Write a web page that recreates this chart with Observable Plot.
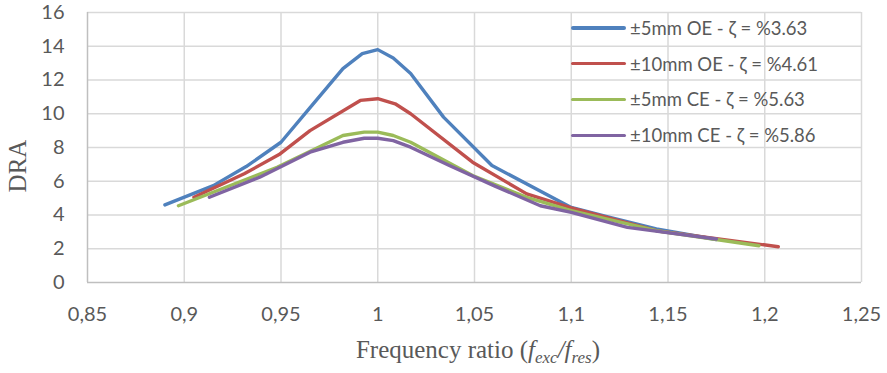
<!DOCTYPE html>
<html><head><meta charset="utf-8">
<script src="https://cdn.jsdelivr.net/npm/d3@7"></script>
<script src="https://cdn.jsdelivr.net/npm/@observablehq/plot@0.6"></script>
<style>
body{margin:0;background:#fff;}
#wrap{position:relative;width:887px;height:373px;overflow:hidden;}
.legend{position:absolute;left:571px;top:10px;font-family:Lato,sans-serif;font-size:18.5px;color:#595959;}
.legend .row{display:flex;align-items:center;height:35.8px;}
.legend .sw{width:55px;height:3.5px;margin-right:4px;border-radius:2px;}
</style></head><body><div id="wrap"></div>
<script>
const seriesNames = ["±5mm OE - ζ = %3.63","±10mm OE - ζ = %4.61","±5mm CE - ζ = %5.63","±10mm CE - ζ = %5.86"];
const seriesColors = ["#4F81BD","#C0504D","#9BBB59","#8064A2"];

const x5OE = [0.890,0.915,0.932,0.950,0.966,0.982,0.992,1.000,1.008,1.017,1.034,1.059,1.100,1.120,1.144,1.175];
const y5OE = [4.60,5.74,6.87,8.31,10.5,12.67,13.56,13.80,13.30,12.38,9.80,6.93,4.45,3.86,3.17,2.55];

const x10OE = [0.905,0.931,0.949,0.965,0.991,1.000,1.009,1.017,1.049,1.077,1.100,1.144,1.207];
const y10OE = [5.05,6.44,7.58,9.00,10.79,10.89,10.59,10.00,7.13,5.25,4.42,3.07,2.12];

const x5CE = [0.897,0.948,0.982,0.993,1.000,1.008,1.017,1.049,1.077,1.100,1.144,1.197];
const y5CE = [4.55,6.83,8.71,8.91,8.91,8.71,8.31,6.34,5.05,4.26,3.07,2.18];

const x10CE = [0.913,0.939,0.965,0.982,0.993,1.000,1.008,1.017,1.037,1.060,1.084,1.100,1.129,1.175];
const y10CE = [5.05,6.24,7.72,8.31,8.55,8.55,8.41,8.02,6.93,5.74,4.55,4.16,3.27,2.58];

const xTicks = [0.85,0.9,0.95,1,1.05,1.1,1.15,1.2,1.25];
const yTicks = [0,2,4,6,8,10,12,14,16];

const allX = [x5OE,x10OE,x5CE,x10CE];
const allY = [y5OE,y10OE,y5CE,y10CE];
const rows = [];
allX.forEach((xs,i)=>xs.forEach((x,j)=>rows.push({series:seriesNames[i],x,y:allY[i][j]})));

const fmt = v => String(+v.toFixed(2)).replace(".", ",");

const plot = Plot.plot({
  width:887, height:373,
  marginLeft:87, marginRight:26, marginTop:12, marginBottom:91,
  style:{fontFamily:"Lato, sans-serif", fontSize:"20px", color:"#595959", background:"white"},
  x:{domain:[0.85,1.25]},
  y:{domain:[0,16]},
  color:{domain:seriesNames, range:seriesColors},
  marks:[
    Plot.ruleY(yTicks.slice(1),{stroke:"#d9d9d9",strokeWidth:1.5}),
    Plot.ruleX(xTicks.slice(1),{stroke:"#d9d9d9",strokeWidth:1.5}),
    Plot.ruleX([xTicks[0]],{stroke:"#bfbfbf",strokeWidth:1.5}),
    Plot.ruleY([yTicks[0]],{stroke:"#bfbfbf",strokeWidth:1.5}),
    Plot.axisX({ticks:xTicks, tickFormat:fmt, tickSize:0, tickPadding:24, label:null, fill:"#595959"}),
    Plot.axisY({ticks:yTicks, tickSize:0, tickPadding:23, label:null, fill:"#595959"}),
    Plot.line(rows,{x:"x",y:"y",z:"series",stroke:"series",strokeWidth:3.4,strokeLinejoin:"round",strokeLinecap:"round"})
  ]
});
const wrap = document.getElementById("wrap");
wrap.appendChild(plot);

const xs = plot.scale("x");
const svg = d3.select(plot);

svg.append("text")
  .attr("transform","translate(17,166) rotate(-90)")
  .attr("text-anchor","middle")
  .attr("dominant-baseline","central")
  .attr("font-family","Liberation Serif")
  .attr("font-size",25)
  .attr("fill","#595959")
  .text("DRA");

const t = svg.append("text")
  .attr("x",(xs.apply(0.85)+xs.apply(1.25))/2+4)
  .attr("y",358)
  .attr("text-anchor","middle")
  .attr("font-family","Liberation Serif")
  .attr("font-size",25)
  .attr("fill","#595959");
t.append("tspan").text("Frequency ratio (");
t.append("tspan").attr("font-style","italic").text("f");
t.append("tspan").attr("font-style","italic").attr("font-size",17).attr("dy",5).text("exc");
t.append("tspan").attr("font-style","italic").attr("dy",-5).text("/f");
t.append("tspan").attr("font-style","italic").attr("font-size",17).attr("dy",5).text("res");
t.append("tspan").attr("dy",-5).text(")");

const leg = document.createElement("div");
leg.className = "legend";
seriesNames.forEach((n,i)=>{
  const r = document.createElement("div"); r.className="row";
  const s = document.createElement("div"); s.className="sw"; s.style.background=seriesColors[i];
  const l = document.createElement("span"); l.textContent=n;
  r.appendChild(s); r.appendChild(l); leg.appendChild(r);
});
wrap.appendChild(leg);
</script>
</body></html>
